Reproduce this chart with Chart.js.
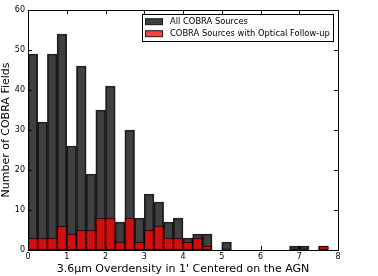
<!DOCTYPE html>
<html>
<head>
<meta charset="utf-8">
<script src="https://cdn.jsdelivr.net/npm/chart.js@4"></script>
<style>
html,body{margin:0;padding:0;background:#fff;}
#wrap{position:relative;width:378px;height:276px;}
</style>
</head>
<body>
<div id="wrap"><canvas id="c" width="378" height="276"></canvas></div>
<script>
// Histogram bins: left edges of 0.25-wide bins from 0 to 8
const binStart = 0;
const binWidth = 0.25;
const allCounts = [49,32,49,54,26,46,19,35,41,7,30,8,14,12,7,8,3,4,4,0,2,0,0,0,0,0,0,1,1,0,1,0];
const followCounts = [3,3,3,6,4,5,5,8,8,2,8,2,5,6,3,3,2,3,1,0,0,0,0,0,0,0,0,0,0,0,1,0];
const seriesLabels = ['All COBRA Sources', 'COBRA Sources with Optical Follow-up'];
const xTicks = [0,1,2,3,4,5,6,7,8];
const yTicks = [0,10,20,30,40,50,60];
const xTitle = "3.6\u03bcm Overdensity in 1' Centered on the AGN";
const yTitle = 'Number of COBRA Fields';

function toPoints(arr){
  return arr.map((v,i)=>({x: binStart + binWidth*(i+0.5), y: v === 0 ? null : v}));
}

const FONT = 'DejaVu Sans';

const framePlugin = {
  id: 'frame',
  afterDraw(chart){
    const ctx = chart.ctx;
    const a = chart.chartArea;
    const xs = chart.scales.x, ys = chart.scales.y;
    ctx.save();
    ctx.strokeStyle = '#000';
    ctx.lineWidth = 1;
    // inward ticks on all four sides
    ctx.beginPath();
    xTicks.forEach(t=>{
      const px = Math.round(xs.getPixelForValue(t)) + 0.5;
      ctx.moveTo(px, a.bottom); ctx.lineTo(px, a.bottom - 4);
      ctx.moveTo(px, a.top); ctx.lineTo(px, a.top + 4);
    });
    yTicks.forEach(t=>{
      const py = Math.round(ys.getPixelForValue(t)) + 0.5;
      ctx.moveTo(a.left, py); ctx.lineTo(a.left + 4, py);
      ctx.moveTo(a.right, py); ctx.lineTo(a.right - 4, py);
    });
    ctx.stroke();
    ctx.strokeRect(Math.round(a.left)+0.5, Math.round(a.top)+0.5, Math.round(a.right-a.left), Math.round(a.bottom-a.top));
    // legend
    const lx = 142.5, ly = 14.5, lw = 191, lh = 27;
    ctx.fillStyle = '#fff';
    ctx.fillRect(lx, ly, lw, lh);
    ctx.strokeStyle = '#000';
    ctx.strokeRect(lx, ly, lw, lh);
    ctx.font = '8.35px "' + FONT + '"';
    ctx.textBaseline = 'middle';
    chart.data.datasets.forEach((ds, i)=>{
      const cy = 21.7 + i*12;
      ctx.fillStyle = '#fff';
      ctx.fillRect(145.5, cy-3, 17, 6);
      ctx.fillStyle = ds.backgroundColor;
      ctx.fillRect(145.5, cy-3, 17, 6);
      ctx.strokeStyle = ds.borderColor;
      ctx.strokeRect(145.5, cy-3, 17, 6);
      ctx.fillStyle = '#000';
      ctx.fillText(ds.label, 170, cy+0.5);
    });
    ctx.restore();
  }
};

new Chart(document.getElementById('c'), {
  type: 'bar',
  data: {
    datasets: [
      {
        label: seriesLabels[0],
        data: toPoints(allCounts),
        backgroundColor: 'rgba(0,0,0,0.75)',
        borderColor: 'rgba(0,0,0,0.85)',
        borderWidth: 1,
        borderSkipped: false,
        barPercentage: 1,
        categoryPercentage: 1,
        grouped: false,
        order: 2
      },
      {
        label: seriesLabels[1],
        data: toPoints(followCounts),
        backgroundColor: 'rgba(255,0,0,0.75)',
        borderColor: 'rgba(0,0,0,0.85)',
        borderWidth: 1,
        borderSkipped: false,
        barPercentage: 1,
        categoryPercentage: 1,
        grouped: false,
        order: 1
      }
    ]
  },
  options: {
    responsive: false,
    animation: false,
    events: [],
    layout: { padding: { top: 10, right: 40, left: 0, bottom: 0 } },
    plugins: { legend: { display: false }, tooltip: { enabled: false } },
    scales: {
      x: {
        type: 'linear',
        min: 0, max: 8,
        offset: false,
        grid: { display: false, drawTicks: false },
        border: { display: false },
        afterBuildTicks(s){ s.ticks = xTicks.map(v=>({value:v})); },
        ticks: { color: '#000', font: { family: FONT, size: 8 }, padding: 2, maxRotation: 0, autoSkip: false },
        title: { display: true, text: xTitle, color: '#000', font: { family: FONT, size: 11 }, padding: { top: 1, bottom: 0 } },
        afterFit(s){ s.height = 26; }
      },
      y: {
        min: 0, max: 60,
        grid: { display: false, drawTicks: false },
        border: { display: false },
        afterBuildTicks(s){ s.ticks = yTicks.map(v=>({value:v})); },
        ticks: { color: '#000', font: { family: FONT, size: 8 }, padding: 3, autoSkip: false },
        title: { display: true, text: yTitle, color: '#000', font: { family: FONT, size: 11 }, padding: { top: 0, bottom: 2 } },
        afterFit(s){ s.width = 28; }
      }
    }
  },
  plugins: [framePlugin]
});
</script>
</body>
</html>
